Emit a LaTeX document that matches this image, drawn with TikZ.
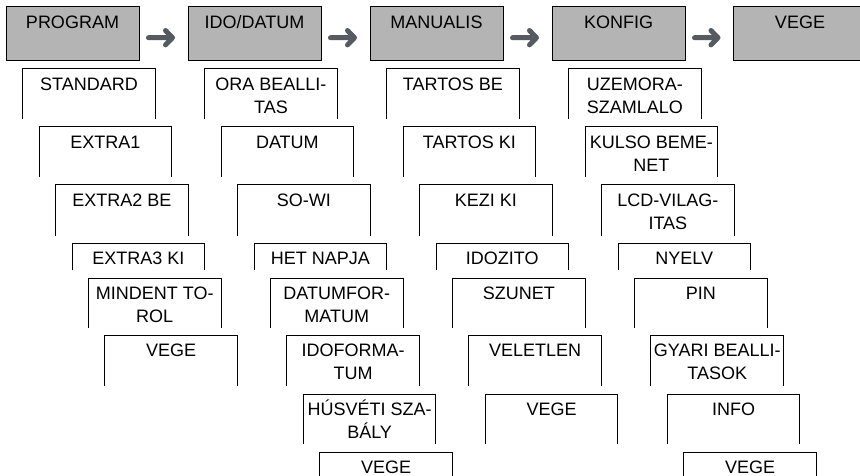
\documentclass[tikz,border=0pt]{standalone}
\usepackage{fontspec}
\setmainfont{Liberation Sans}
\definecolor{topgray}{RGB}{180,180,180}
\definecolor{arrgray}{RGB}{85,91,96}
\newcommand{\menubox}[4]{%
  \pgfmathsetmacro\bx{#2+(#3-1)*16.45}%
  \edef\bt{\ifcase#3\or69\or127\or185\or243\or278\or335\or394\or452\fi}%
  \edef\bb{\ifcase#3\or119\or177\or236\or270\or328\or386\or444\or490\fi}%
  \draw[boxline] (\bx,\bb) -- (\bx,\bt) -- (\bx+132.5,\bt) -- (\bx+132.5,\bb);
  \node[lbl] (#1) at (\bx+66.25,\bt+21.8) {\begin{tabular}[t]{@{}c@{}}#4\end{tabular}};
}
\newcommand{\menuarrow}[2]{%
  \draw[menuarr] ([xshift=9.5pt,yshift=-3.7pt]#1.east) -- ([xshift=-15.5pt,yshift=-3.7pt]#2.west)
    ([xshift=-22.5pt,yshift=3.5pt]#2.west) -- ([xshift=-15.5pt,yshift=-3.7pt]#2.west) -- ([xshift=-22.5pt,yshift=-10.9pt]#2.west);
}
\begin{document}
\begin{tikzpicture}[x=1pt,y=-1pt,
  boxline/.style={draw=black,line width=1pt},
  topbox/.style={draw=black,fill=topgray,line width=1pt,minimum width=133pt,minimum height=54pt,inner sep=0pt,outer sep=0pt},
  lbl/.style={anchor=base,inner sep=0pt,font=\fontsize{18}{22.5}\selectfont},
  menuarr/.style={draw=arrgray,line width=5pt,line cap=round,line join=round}]
\clip (0,0) rectangle (860,476);
% top menu boxes
\node[topbox] (p1) at (72.5,34) {};
\node[topbox] (p2) at (254.5,34) {};
\node[topbox] (p3) at (436.5,34) {};
\node[topbox] (p4) at (618.5,34) {};
\node[topbox] (p5) at (800,34) {};
\node[lbl] (t1) at ([yshift=-21.2pt]p1.north) {PROGRAM};
\node[lbl] (t2) at ([yshift=-21.2pt]p2.north) {IDO/DATUM};
\node[lbl] (t3) at ([yshift=-21.2pt]p3.north) {MANUALIS};
\node[lbl] (t4) at ([yshift=-21.2pt]p4.north) {KONFIG};
\node[lbl] (t5) at ([yshift=-21.2pt]p5.north) {VEGE};
\menuarrow{p1}{p2}
\menuarrow{p2}{p3}
\menuarrow{p3}{p4}
\menuarrow{p4}{p5}
% column 1
\menubox{a1}{22.7}{1}{STANDARD}
\menubox{a2}{22.7}{2}{EXTRA1}
\menubox{a3}{22.7}{3}{EXTRA2 BE}
\menubox{a4}{22.7}{4}{EXTRA3 KI}
\menubox{a5}{22.7}{5}{MINDENT TO-\\ROL}
\menubox{a6}{22.7}{6}{VEGE}
% column 2
\menubox{b1}{204.7}{1}{ORA BEALLI-\\TAS}
\menubox{b2}{204.7}{2}{DATUM}
\menubox{b3}{204.7}{3}{SO-WI}
\menubox{b4}{204.7}{4}{HET NAPJA}
\menubox{b5}{204.7}{5}{DATUMFOR-\\MATUM}
\menubox{b6}{204.7}{6}{IDOFORMA-\\TUM}
\menubox{b7}{204.7}{7}{HÚSVÉTI SZA-\\BÁLY}
\menubox{b8}{204.7}{8}{VEGE}
% column 3
\menubox{c1}{386.7}{1}{TARTOS BE}
\menubox{c2}{386.7}{2}{TARTOS KI}
\menubox{c3}{386.7}{3}{KEZI KI}
\menubox{c4}{386.7}{4}{IDOZITO}
\menubox{c5}{386.7}{5}{SZUNET}
\menubox{c6}{386.7}{6}{VELETLEN}
\menubox{c7}{386.7}{7}{VEGE}
% column 4
\menubox{d1}{568.7}{1}{UZEMORA-\\SZAMLALO}
\menubox{d2}{568.7}{2}{KULSO BEME-\\NET}
\menubox{d3}{568.7}{3}{LCD-VILAG-\\ITAS}
\menubox{d4}{568.7}{4}{NYELV}
\menubox{d5}{568.7}{5}{PIN}
\menubox{d6}{568.7}{6}{GYARI BEALLI-\\TASOK}
\menubox{d7}{568.7}{7}{INFO}
\menubox{d8}{568.7}{8}{VEGE}
\end{tikzpicture}
\end{document}
